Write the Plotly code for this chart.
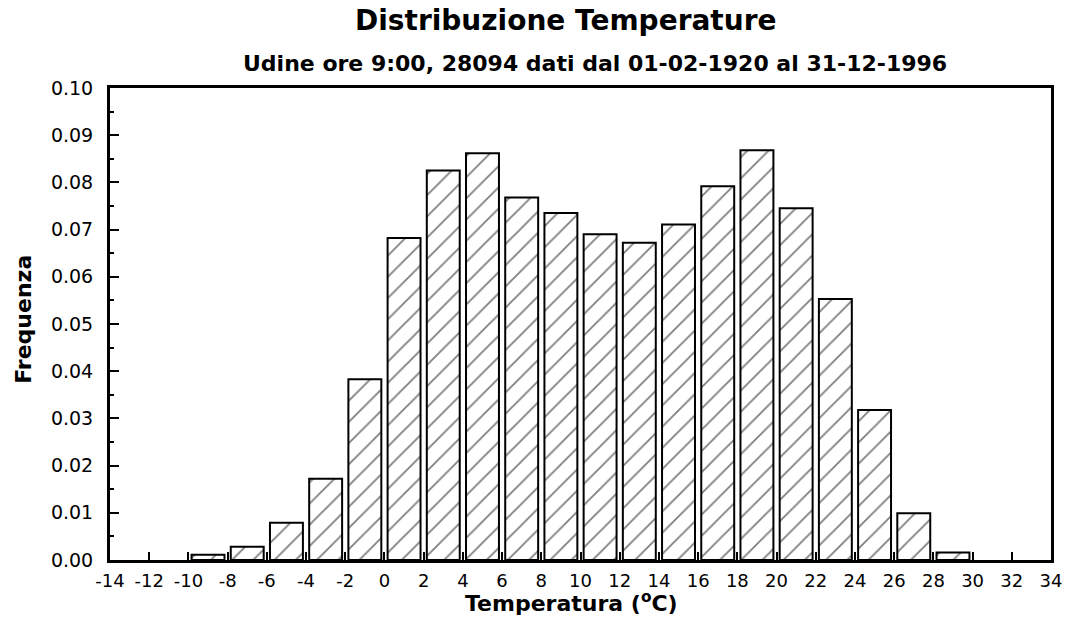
import plotly.graph_objects as go

# Temperature bins (centre of each 2 degree class) and relative frequencies
bin_centres = [-9, -7, -5, -3, -1, 1, 3, 5, 7, 9, 11, 13, 15, 17, 19, 21, 23, 25, 27, 29]
frequencies = [0.0011, 0.0028, 0.0079, 0.0172, 0.0383, 0.0682, 0.0825, 0.0862,
               0.0768, 0.0735, 0.0690, 0.0672, 0.0711, 0.0792, 0.0868, 0.0745,
               0.0553, 0.0318, 0.0099, 0.0016]

x_ticks = list(range(-14, 35, 2))
y_ticks = [i / 100 for i in range(0, 11)]

title_text = "Distribuzione Temperature"
subtitle_text = "Udine ore 9:00, 28094 dati dal 01-02-1920 al 31-12-1996"
x_title = "Temperatura (<sup>o</sup>C)"
y_title = "Frequenza"

TITLE_FONT = "DejaVu Sans, Liberation Sans, sans-serif"
TICK_FONT = "DejaVu Sans, sans-serif"

fig = go.Figure(
    go.Bar(
        x=bin_centres,
        y=frequencies,
        width=1.68,
        marker=dict(
            color="white",
            line=dict(color="black", width=2),
            pattern=dict(shape="/", fgcolor="black", bgcolor="white",
                         size=15, solidity=0.12, fillmode="overlay"),
        ),
        hoverinfo="x+y",
    )
)

fig.update_layout(
    width=1074,
    height=628,
    margin=dict(l=110, r=17, t=88, b=68),
    paper_bgcolor="white",
    plot_bgcolor="white",
    showlegend=False,
    font=dict(family=TITLE_FONT, color="black"),
    annotations=[
        dict(text=f"<b>{title_text}</b>", xref="paper", yref="paper",
             x=0.4836, y=1.144, xanchor="center", yanchor="middle",
             showarrow=False, font=dict(size=28, family=TITLE_FONT)),
        dict(text=f"<b>{subtitle_text}</b>", xref="paper", yref="paper",
             x=0.515, y=1.051, xanchor="center", yanchor="middle",
             showarrow=False, font=dict(size=22, family=TITLE_FONT)),
        dict(text=f"<b>{x_title}</b>", xref="paper", yref="paper",
             x=0.49, y=-0.089, xanchor="center", yanchor="middle",
             showarrow=False, font=dict(size=22, family=TITLE_FONT)),
        dict(text=f"<b>{y_title}</b>", xref="paper", yref="paper",
             x=-0.0919, y=0.51, xanchor="center", yanchor="middle",
             textangle=-90, showarrow=False, font=dict(size=22, family=TITLE_FONT)),
    ],
)

fig.update_xaxes(
    range=[-14, 34],
    tickvals=x_ticks,
    ticktext=[str(v) for v in x_ticks],
    ticks="inside",
    ticklen=8,
    tickwidth=2,
    tickcolor="black",
    ticklabelstandoff=2,
    showline=True,
    linewidth=3,
    linecolor="black",
    mirror=True,
    showgrid=False,
    zeroline=False,
    tickfont=dict(size=18, family=TICK_FONT, color="black"),
)

fig.update_yaxes(
    range=[0, 0.1],
    tickvals=y_ticks,
    ticktext=[f"{v:.2f}" for v in y_ticks],
    ticks="inside",
    ticklen=9,
    tickwidth=2,
    tickcolor="black",
    ticklabelstandoff=10,
    minor=dict(dtick=0.005, ticks="inside", ticklen=4, tickwidth=2, tickcolor="black"),
    showline=True,
    linewidth=3,
    linecolor="black",
    mirror=True,
    showgrid=False,
    zeroline=False,
    tickfont=dict(size=19, family=TICK_FONT, color="black"),
)

fig.write_html("out.html")
